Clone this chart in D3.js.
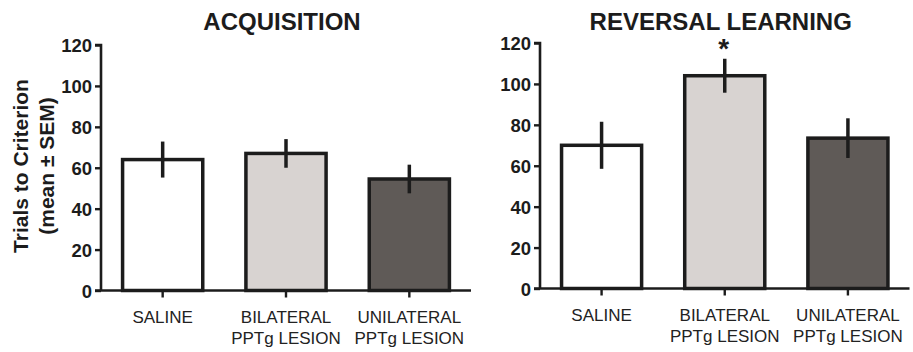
<!DOCTYPE html>
<html><head><meta charset="utf-8">
<script src="https://cdn.jsdelivr.net/npm/d3@7"></script>
<style>body{margin:0;background:#fff}svg{display:block}text{font-family:"Liberation Sans",Arial,sans-serif}</style>
</head><body>
<svg id="c" width="913" height="352"></svg>
<script>
const categories = [["SALINE"], ["BILATERAL", "PPTg LESION"], ["UNILATERAL", "PPTg LESION"]];
const panelTitles = ["ACQUISITION", "REVERSAL LEARNING"];
const acquisitionMeans = [64, 67, 54.5];
const acquisitionSEM = [8.8, 7, 7];
const reversalMeans = [70, 104, 73.5];
const reversalSEM = [11.5, 8.3, 9.7];
const reversalSignificance = ["", "*", ""];
const acquisitionSignificance = ["", "", ""];
const yTicks = [0, 20, 40, 60, 80, 100, 120];
const fills = ["#ffffff", "#d8d3d1", "#5f5a57"];

const svg = d3.select("#c");
const panels = [
  {title: panelTitles[0], means: acquisitionMeans, sem: acquisitionSEM, sig: acquisitionSignificance, x0: 101, x1: 471, yb: 290.5, yt: 45},
  {title: panelTitles[1], means: reversalMeans, sem: reversalSEM, sig: reversalSignificance, x0: 540, x1: 909.5, yb: 288.5, yt: 43}
];
const ink = "#1c1c1c";

panels.forEach(p => {
  const g = svg.append("g");
  const x = d3.scaleBand().domain(d3.range(categories.length)).range([p.x0, p.x1]).paddingInner(0.35).paddingOuter(0.175);
  const y = d3.scaleLinear().domain([0, 120]).range([p.yb, p.yt]);

  g.selectAll("rect.bar").data(p.means).join("rect")
    .attr("x", (d, i) => x(i)).attr("width", x.bandwidth())
    .attr("y", d => y(d)).attr("height", d => y(0) - y(d))
    .attr("fill", (d, i) => fills[i]).attr("stroke", ink).attr("stroke-width", 3.5);

  g.selectAll("line.err").data(p.means).join("line")
    .attr("x1", (d, i) => x(i) + x.bandwidth() / 2).attr("x2", (d, i) => x(i) + x.bandwidth() / 2)
    .attr("y1", (d, i) => y(d + p.sem[i])).attr("y2", (d, i) => y(d - p.sem[i]))
    .attr("stroke", ink).attr("stroke-width", 3.5);

  g.selectAll("text.sig").data(p.sig).join("text")
    .attr("x", (d, i) => x(i) + x.bandwidth() / 2 - 1)
    .attr("y", (d, i) => y(p.means[i] + p.sem[i]) - 1)
    .attr("text-anchor", "middle").attr("font-size", 28).attr("font-weight", "bold").attr("fill", ink)
    .text(d => d);

  const ya = g.append("g").attr("transform", `translate(${p.x0},0)`)
    .call(d3.axisLeft(y).tickValues(yTicks).tickSize(6).tickPadding(3).tickFormat(d3.format("d")));
  ya.select(".domain").attr("stroke", ink).attr("stroke-width", 2.6).attr("d", `M-6,${p.yt}H0V${p.yb}`);
  ya.selectAll(".tick line").attr("stroke", ink).attr("stroke-width", 2.4);
  ya.selectAll(".tick text").attr("font-size", 18.5).attr("font-weight", "bold").attr("fill", ink)
    .attr("font-family", "'Liberation Sans',Arial,sans-serif").attr("dy", "0.36em");

  const xa = g.append("g").attr("transform", `translate(0,${p.yb})`)
    .call(d3.axisBottom(x).tickSize(7).tickFormat(""));
  xa.select(".domain").attr("stroke", ink).attr("stroke-width", 2.6).attr("d", `M${p.x0 - 6},0H${p.x1}`);
  xa.selectAll(".tick line").attr("stroke", ink).attr("stroke-width", 2.4);

  categories.forEach((lines, i) => {
    const t = g.append("text").attr("text-anchor", "middle").attr("font-size", 17).attr("fill", "#222")
      .attr("x", x(i) + x.bandwidth() / 2).attr("y", p.yb + 32);
    lines.forEach((l, k) => t.append("tspan").attr("x", x(i) + x.bandwidth() / 2).attr("dy", k === 0 ? 0 : 21).text(l));
  });

  g.append("text").attr("x", (p.x0 + p.x1) / 2 - 4).attr("y", 30)
    .attr("text-anchor", "middle").attr("font-size", 24).attr("font-weight", "bold").attr("fill", ink)
    .text(p.title);
});

const yl = svg.append("text").attr("transform", "translate(0,166) rotate(-90)")
  .attr("text-anchor", "middle").attr("font-size", 21).attr("font-weight", "bold").attr("fill", ink);
yl.append("tspan").attr("x", 0).attr("y", 28).text("Trials to Criterion");
yl.append("tspan").attr("x", 0).attr("y", 54).text("(mean \u00B1 SEM)");
</script>
</body></html>
